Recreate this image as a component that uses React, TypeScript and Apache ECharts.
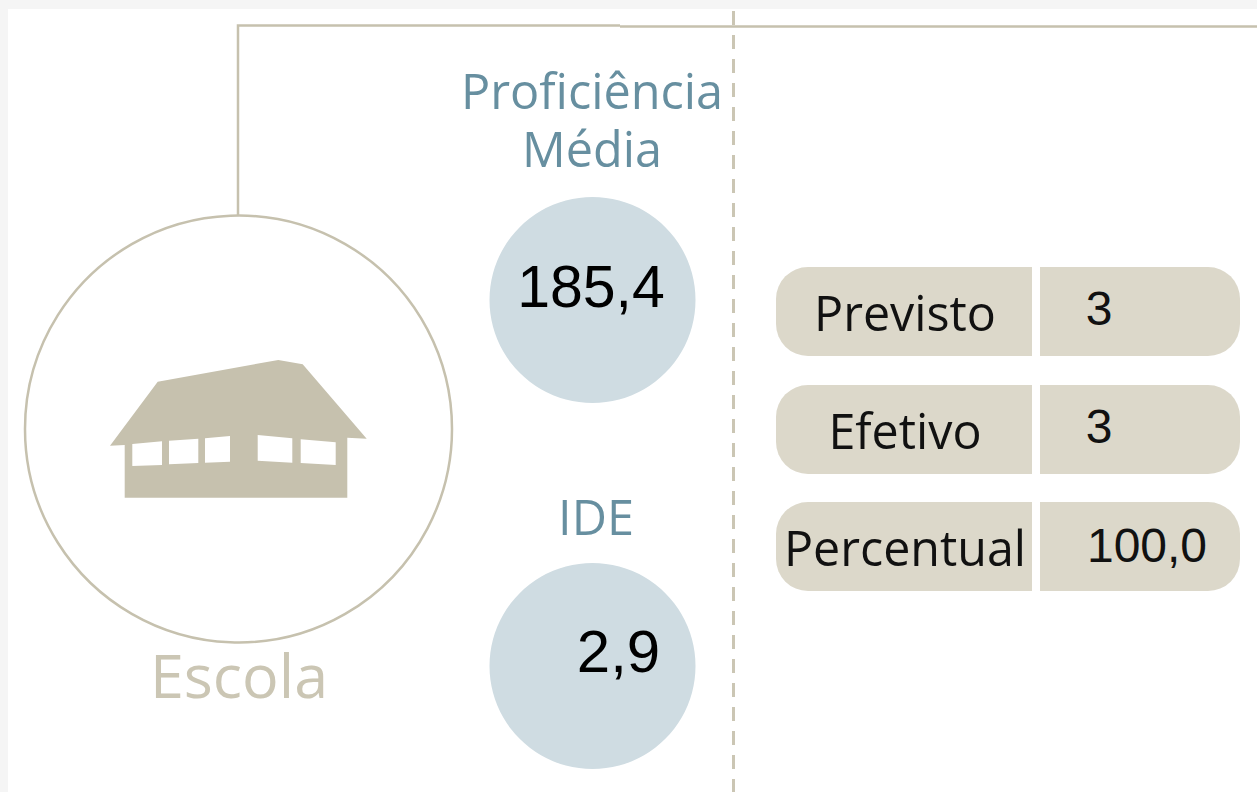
import React, { useEffect, useRef } from "react";
import * as echarts from "echarts";

const panelTitles = ["Proficiência", "Média"];
const ideTitle = "IDE";
const schoolLabel = "Escola";
const proficiencyValue = "185,4";
const ideValue = "2,9";
const rowLabels = ["Previsto", "Efetivo", "Percentual"];
const rowValues = ["3", "3", "100,0"];

const BEIGE = "#c6c1ae";
const PILL = "#dcd8ca";
const BLUE = "#cfdce2";
const TEAL = "#678fa0";
const OPEN = '"Open Sans", sans-serif';
const ARIAL = '"Liberation Sans", Arial, sans-serif';

const txt = (t: string, x: number, y: number, size: number, fill: string, family: string) => ({
  type: "text",
  x,
  y,
  style: { text: t, fontSize: size, fontFamily: family, fill, textAlign: "center", textVerticalAlign: "middle" },
});

const poly = (points: number[][], fill: string) => ({ type: "polygon", shape: { points }, style: { fill } });

export default function App() {
  const ref = useRef<HTMLDivElement>(null);
  useEffect(() => {
    const chart = echarts.init(ref.current!, null, { renderer: "svg" });
    const rowTops = [267, 385, 502];
    const elements: any[] = [
      { type: "rect", shape: { x: 8, y: 9, width: 1249, height: 783 }, style: { fill: "#ffffff" } },
      { type: "polyline", shape: { points: [[238, 215], [238, 25.5], [620, 25.5]] }, style: { stroke: BEIGE, lineWidth: 2.5, fill: "none" } },
      { type: "line", shape: { x1: 620, y1: 26.5, x2: 1257, y2: 26.5 }, style: { stroke: BEIGE, lineWidth: 2.5 } },
      { type: "line", shape: { x1: 733.5, y1: 11, x2: 733.5, y2: 792 }, style: { stroke: "#cbc6b4", lineWidth: 3, lineDash: [14, 10] } },
      { type: "circle", shape: { cx: 238.5, cy: 429, r: 213.5 }, style: { fill: "#fff", stroke: BEIGE, lineWidth: 2.5 } },
      poly([[110, 445.7], [157.7, 381.7], [278.3, 360], [302.7, 364.3], [366.7, 438.7], [347.3, 437.7], [347.3, 497.7], [124.7, 497.7], [124.7, 445]], BEIGE),
      poly([[132.3, 444], [162, 441.3], [162, 465], [132.3, 466]], "#fff"),
      poly([[169, 440.7], [198.3, 438.7], [198.3, 463], [169, 464.3]], "#fff"),
      poly([[205, 438.3], [230, 436], [230, 461.7], [205, 462.7]], "#fff"),
      poly([[257.7, 435], [292.3, 438.3], [292.3, 462.7], [257.7, 460.7]], "#fff"),
      poly([[300.7, 439.3], [335.7, 442.3], [335.7, 465], [300.7, 463]], "#fff"),
      txt(schoolLabel, 239, 674, 61, "#cbc6b4", OPEN),
      {
        type: "text",
        x: 592,
        y: 119,
        style: {
          text: panelTitles.join("\n"),
          fontSize: 48.6,
          lineHeight: 58,
          fontFamily: OPEN,
          fill: TEAL,
          textAlign: "center",
          textVerticalAlign: "middle",
        },
      },
      { type: "circle", shape: { cx: 592.5, cy: 300, r: 103 }, style: { fill: BLUE } },
      txt(proficiencyValue, 591, 287, 59, "#000", ARIAL),
      txt(ideTitle, 596, 516, 48.6, TEAL, OPEN),
      { type: "circle", shape: { cx: 592.5, cy: 666, r: 103 }, style: { fill: BLUE } },
      txt(ideValue, 618.5, 651, 60, "#000", ARIAL),
    ];
    rowLabels.forEach((label, i) => {
      const y = rowTops[i];
      elements.push(
        { type: "rect", shape: { x: 776, y, width: 256, height: 89, r: [32, 0, 0, 32] }, style: { fill: PILL } },
        { type: "rect", shape: { x: 1040, y, width: 200, height: 89, r: [0, 32, 32, 0] }, style: { fill: PILL } },
        txt(label, 905, y + 45, 48.4, "#111", OPEN),
        txt(rowValues[i], i === 2 ? 1147 : 1099, y + (i === 2 ? 43 : 41), 48, "#111", ARIAL)
      );
    });
    chart.setOption({ animation: false, backgroundColor: "#f5f5f5", graphic: { elements } });
    return () => chart.dispose();
  }, []);
  return <div ref={ref} style={{ position: "fixed", left: 0, top: 0, width: 1257, height: 792 }} />;
}
